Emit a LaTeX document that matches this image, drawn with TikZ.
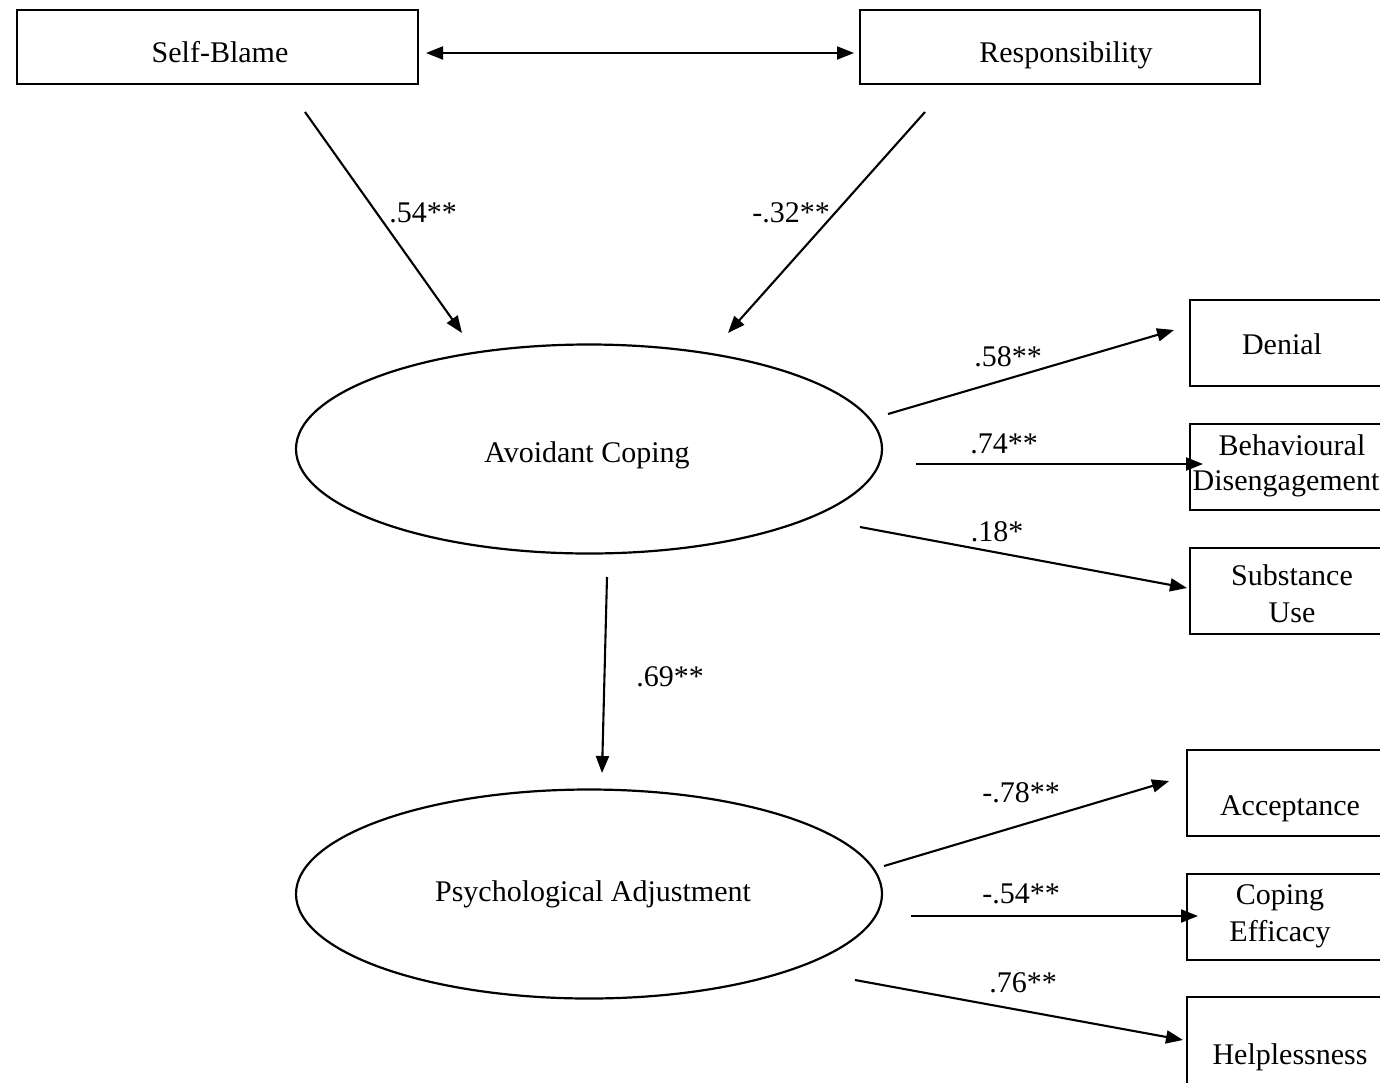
\documentclass[tikz,border=0pt]{standalone}
\usepackage{fontspec}
\setmainfont{Liberation Serif}
\usetikzlibrary{arrows.meta,shapes.geometric}
\begin{document}
\begin{tikzpicture}[x=1pt,y=-1pt,
  every node/.style={font=\fontsize{30}{37}\selectfont},
  boxnode/.style={draw,line width=2.4pt,rectangle,inner sep=0pt},
  ellnode/.style={draw,line width=2.2pt,ellipse,inner sep=0pt,minimum width=586pt,minimum height=209pt},
  txt/.style={inner sep=0pt,anchor=base},
  lab/.style={inner sep=0pt},
  arr/.style={line width=2.1pt,-{Triangle[length=17pt,width=13pt]}},
  darr/.style={line width=2.1pt,{Triangle[length=17pt,width=13pt]}-{Triangle[length=17pt,width=13pt]}}]
\useasboundingbox (0,0) rectangle (1380,1082);
\clip (0,0) rectangle (1380,1082);
% top boxes
\node[boxnode,minimum width=401pt,minimum height=74pt] (sb) at (217.5,47) {};
\node[txt] (sbtxt) at (220,62) {Self-Blame};
\node[boxnode,minimum width=400pt,minimum height=74pt] (resp) at (1060,47) {};
\node[txt] (resptxt) at (1066,62) {Responsibility};
% ellipses
\node[ellnode] (ac) at (589,449) {};
\node[txt] (actxt) at (587,462) {Avoidant Coping};
\node[ellnode] (pa) at (589,894) {};
\node[txt] (patxt) at (593,901) {Psychological Adjustment};
% right boxes
\node[boxnode,minimum width=210pt,minimum height=86pt] (den) at (1295,343) {};
\node[txt] (dentxt) at (1282,354) {Denial};
\node[boxnode,minimum width=210pt,minimum height=86pt] (bd) at (1295,467) {};
\node[txt] (bdtxt1) at (1292,455) {Behavioural};
\node[txt] (bdtxt2) at (1286,490) {Disengagement};
\node[boxnode,minimum width=210pt,minimum height=86pt] (su) at (1295,591) {};
\node[txt] (sutxt1) at (1292,585) {Substance};
\node[txt] (sutxt2) at (1292,622) {Use};
\node[boxnode,minimum width=216pt,minimum height=86pt] (acc) at (1295,793) {};
\node[txt] (acctxt) at (1290,815) {Acceptance};
\node[boxnode,minimum width=216pt,minimum height=86pt] (ce) at (1295,917) {};
\node[txt] (cetxt1) at (1280,904) {Coping};
\node[txt] (cetxt2) at (1280,941) {Efficacy};
\node[boxnode,minimum width=216pt,minimum height=100pt] (hl) at (1295,1047) {};
\node[txt] (hltxt) at (1290,1064) {Helplessness};
% connector end coordinates
\coordinate (sbE) at (426,53);
\coordinate (rsW) at (854,53);
\coordinate (sbS) at (305,112);
\coordinate (acNW) at (462,333);
\coordinate (rsS) at (925,112);
\coordinate (acNE) at (728,333);
\coordinate (acS) at (607,577);
\coordinate (paN) at (602,773);
\coordinate (acE1) at (888,414);
\coordinate (denW) at (1174,330);
\coordinate (acE2) at (916,464);
\coordinate (bdW) at (1203,464);
\coordinate (acE3) at (860,527);
\coordinate (suW) at (1187,588);
\coordinate (paE1) at (884,866);
\coordinate (accW) at (1169,781);
\coordinate (paE2) at (911,916);
\coordinate (ceW) at (1198,916);
\coordinate (paE3) at (855,980);
\coordinate (hlW) at (1183,1040);
% connectors
\draw[darr] (sbE) -- (rsW);
\draw[arr] (sbS) -- (acNW);
\draw[arr] (rsS) -- (acNE);
\draw[arr] (acS) -- (paN);
\draw[arr] (acE1) -- (denW);
\draw[arr] (acE2) -- (bdW);
\draw[arr] (acE3) -- (suW);
\draw[arr] (paE1) -- (accW);
\draw[arr] (paE2) -- (ceW);
\draw[arr] (paE3) -- (hlW);
% labels
\node[lab] (l1) at (423,213) {.54**};
\node[lab] (l2) at (791,213) {-.32**};
\node[lab] (l3) at (670,677) {.69**};
\node[lab] (l4) at (1008,357) {.58**};
\node[lab] (l5) at (1004,444) {.74**};
\node[lab] (l6) at (997,532) {.18*};
\node[lab] (l7) at (1021,793) {-.78**};
\node[lab] (l8) at (1021,894) {-.54**};
\node[lab] (l9) at (1023,983) {.76**};
\end{tikzpicture}
\end{document}
